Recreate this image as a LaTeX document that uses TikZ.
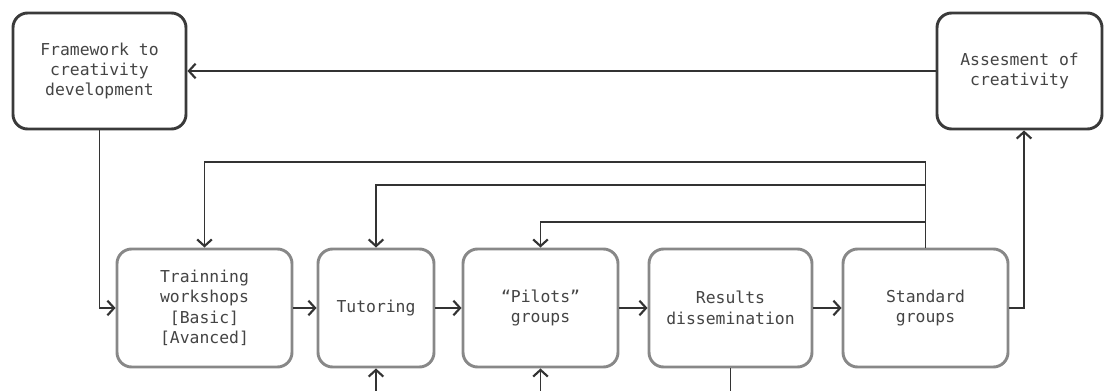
\documentclass[tikz,border=0pt]{standalone}
\usepackage{fontspec}
\setmonofont{DejaVu Sans Mono}
\usetikzlibrary{arrows.meta}
\definecolor{darkbd}{HTML}{3A3A3A}
\definecolor{lightbd}{HTML}{888888}
\definecolor{txt}{HTML}{444444}
\definecolor{conn}{HTML}{333333}
\tikzset{
  box/.style={rounded corners=11pt, line width=2.2pt, fill=white, align=center,
    font=\ttfamily\fontsize{12.3}{15.3}\selectfont, text=txt, inner sep=2pt},
  topbox/.style={box, draw=darkbd},
  botbox/.style={box, draw=lightbd, minimum height=88.5pt},
  arr/.style={draw=conn, line width=1.1pt, -{Straight Barb[length=5pt,width=11pt,line width=1.6pt]}},
  ln/.style={draw=conn, line width=1.1pt}
}
\begin{document}
\begin{tikzpicture}[x=0.75pt,y=-0.75pt]
\useasboundingbox (0,0) rectangle (1105,391);
\node[topbox, minimum width=129.75pt, minimum height=87pt] (fw) at (99.5,71) {Framework to\\creativity\\development};
\node[topbox, minimum width=123.75pt, minimum height=87pt] (as) at (1019.5,71) {Assesment of\\creativity};
\node[botbox, minimum width=131.25pt] (tr) at (204.5,308) {Trainning\\workshops\\{[}Basic{]}\\{[}Avanced{]}};
\node[botbox, minimum width=87pt] (tu) at (376,308) {Tutoring};
\node[botbox, minimum width=116.25pt] (pi) at (540.5,308) {“Pilots”\\groups};
\node[botbox, minimum width=122.25pt] (re) at (730.5,308) {Results\\dissemination};
\node[botbox, minimum width=123.75pt] (st) at (925.5,308) {Standard\\groups};
% coordinates
\coordinate (f1) at (925.5,162);
\coordinate (f2) at (925.5,185);
\coordinate (f3) at (925.5,222);
\coordinate (bot) at (0,391);
% connectors
\draw[arr] (as.west) -- (fw.east);
\draw[arr] (fw.south) |- (tr.west);
\draw[arr] (tr.east) -- (tu.west);
\draw[arr] (tu.east) -- (pi.west);
\draw[arr] (pi.east) -- (re.west);
\draw[arr] (re.east) -- (st.west);
\draw[arr] (st.east) -| ([xshift=3.4pt]as.south);
\draw[ln] (st.north) -- (f1);
\draw[arr] (f1) -| (tr.north);
\draw[arr] (f2) -| (tu.north);
\draw[arr] (f3) -| (pi.north);
\draw[ln] (re.south) -- (re.south |- bot);
\draw[arr] (tu.south |- bot) -- (tu.south);
\draw[arr] (pi.south |- bot) -- (pi.south);
\end{tikzpicture}
\end{document}
